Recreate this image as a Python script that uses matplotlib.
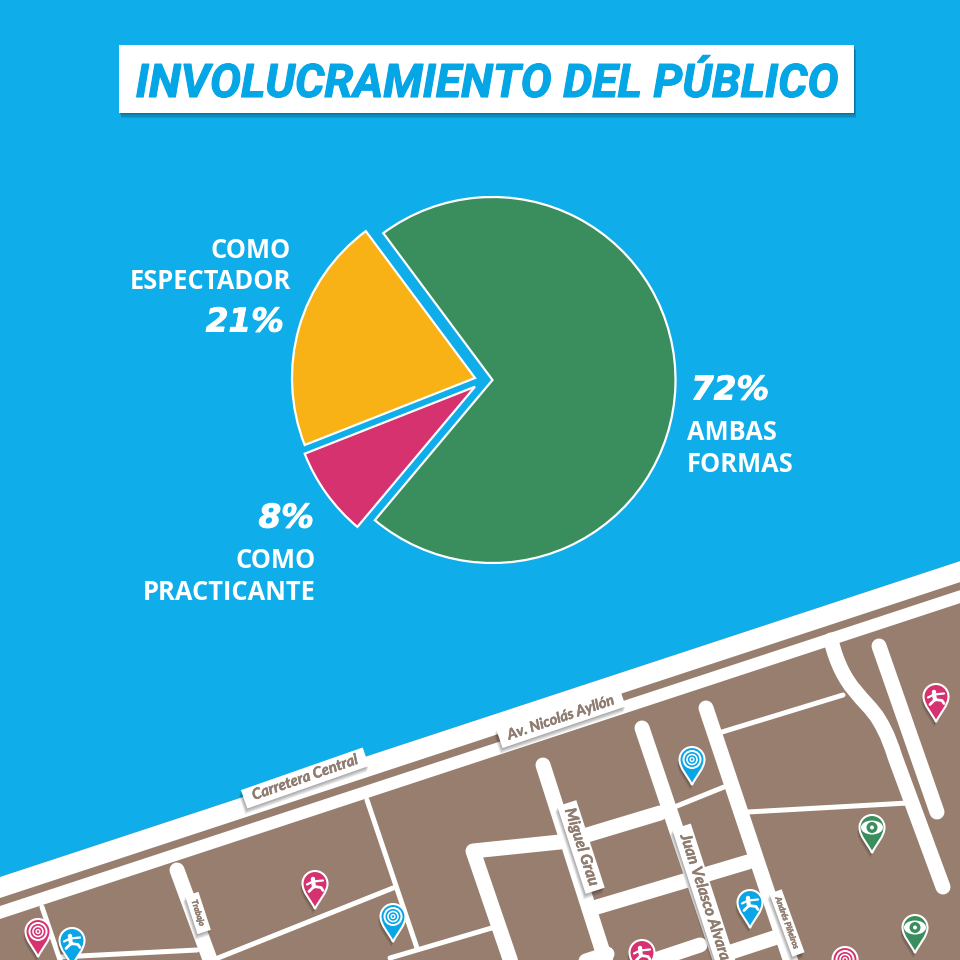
import matplotlib
matplotlib.use("Agg")
import matplotlib.pyplot as plt
from matplotlib.patches import Polygon, Rectangle, Circle, Ellipse, PathPatch
from matplotlib.path import Path
from matplotlib.transforms import Affine2D
import matplotlib.patheffects as pe

# ---- data ----
categories = ["AMBAS\nFORMAS", "COMO\nESPECTADOR", "COMO\nPRACTICANTE"]
values = [72, 21, 8]
slice_colors = ["#3A8D5C", "#F9B216", "#D5326F"]
title = "INVOLUCRAMIENTO DEL PÚBLICO"
street_names = ["Carretera Central", "Av. Nicolás Ayllón", "Trabajo", "Miguel Grau",
                "Juan Velasco Alvarado", "Andrés Piñeiros"]

BG = "#0FADE9"; BROWN = "#987E6E"; WHITE = "#FFFFFF"; TITLE_C = "#05A6E6"
LABEL_C = "#8F7C70"
PIN = {"pink": "#D5326F", "blue": "#0AA5E6", "green": "#3A8D5C"}
FONT = "Open Sans"
NARROW = "Lato"

fig = plt.figure(figsize=(9.6, 9.6), dpi=100, facecolor=BG)
ax = fig.add_axes([0, 0, 1, 1]); ax.set_xlim(0, 960); ax.set_ylim(960, 0); ax.axis("off")

def soft_shadow(dx, dy, n=4, alpha=0.09):
    fx = [pe.SimplePatchShadow(offset=(dx * (i + 1) / n, dy * (i + 1) / n),
                               shadow_rgbFace="#000000", alpha=alpha) for i in range(n)]
    return fx + [pe.Normal()]

# ---- title ----
ax.add_patch(Rectangle((119, 45), 735, 68, fc=WHITE, ec="none", path_effects=soft_shadow(1.5, -3.5), zorder=2))
title_text = ax.text(486.5, 97, title, color=TITLE_C, fontsize=35, fontweight="bold", fontstyle="italic",
                     family="Roboto", ha="center", va="baseline", zorder=3,
                     path_effects=[pe.withStroke(linewidth=0.8, foreground=TITLE_C)])
fig.canvas.draw()
w = title_text.get_window_extent().width
title_text.set_fontsize(35 * 703 / w)

# ---- map ----
def edge(x, off):
    return 877 - 0.329 * x + off

ax.add_patch(Polygon([(0, edge(0, 0)), (960, edge(960, 0)), (960, 960), (0, 960)], fc=BROWN, ec="none", zorder=1))
ax.add_patch(Polygon([(0, edge(0, 0)), (960, edge(960, 0)), (960, edge(960, 21)), (0, edge(0, 21))], fc=WHITE, ec="none", zorder=1.1))
ax.add_patch(Polygon([(0, edge(0, 29)), (960, edge(960, 29)), (960, edge(960, 42)), (0, edge(0, 42))], fc=WHITE, ec="none", zorder=1.1))

wide = 15 * 0.72
thin = 5 * 0.72
streets = [
    ([(543, 765), (607, 965)], wide),
    ([(642, 728), (722, 965)], wide),
    ([(706, 708), (792, 965)], wide),
    ([(879, 646), (937, 812)], wide),
    ([(722, 732), (843, 695)], thin),
    ([(748, 812), (908, 803)], thin),
    ([(672, 808), (724, 787)], thin),
    ([(512, 965), (473, 851), (560, 842), (587, 835), (660, 813)], wide),
    ([(597, 907), (748, 862)], wide),
    ([(565, 968), (607, 954)], wide),
    ([(640, 965), (700, 945)], wide),
    ([(722, 955), (780, 936)], wide),
    ([(213, 960), (393, 888)], thin),
    ([(367, 800), (417, 948)], thin),
    ([(390, 958), (495, 927)], thin),
    ([(42, 907), (60, 960)], thin),
    ([(60, 957), (197, 950)], thin),
    ([(177, 870), (212, 965)], wide),
]
for pts, lw in streets:
    xs, ys = zip(*pts)
    ax.plot(xs, ys, color=WHITE, lw=lw, solid_capstyle="round", solid_joinstyle="round", zorder=1.2)

curve = Path([(831, 640), (843, 690), (866, 698), (879, 720), (888, 735), (891, 745), (895, 757), (943, 887)],
             [Path.MOVETO, Path.CURVE4, Path.CURVE4, Path.CURVE4, Path.CURVE4, Path.CURVE4, Path.CURVE4, Path.LINETO])
ax.add_patch(PathPatch(curve, fc="none", ec=WHITE, lw=wide, capstyle="round", zorder=1.2))

# ---- street labels ----
def street_label(name, x, y, rot, size, length, width):
    tr = Affine2D().rotate_deg(-rot).translate(x, y) + ax.transData
    ax.add_patch(Rectangle((-length / 2, -width / 2), length, width, transform=tr, fc=WHITE, ec="none",
                           zorder=3.9, path_effects=soft_shadow(-1.5, -4)))
    ax.text(x, y, name, color=LABEL_C, fontsize=size, fontweight="bold", fontstyle="italic", family=NARROW,
            ha="center", va="center", rotation=rot, rotation_mode="anchor", zorder=4,
            path_effects=[pe.withStroke(linewidth=0.3, foreground=LABEL_C)])

street_label(street_names[0], 305, 778, 19.3, 10.8, 129, 19.5)
street_label(street_names[1], 561, 718, 18.7, 10.6, 130, 19.5)
street_label(street_names[2], 198, 913, -72, 6, 40, 14)
street_label(street_names[3], 581, 847, -72, 11.2, 92, 20)
street_label(street_names[4], 707, 905, -72, 11.2, 165, 19.5)
street_label(street_names[5], 787, 923, -70, 6, 67, 13)

# ---- pins ----
def pin_path(x, tip, w=12.5, h=38):
    cy = tip - h + w
    k = 0.5523 * w
    verts = [(x, tip), (x - 4, tip - 9), (x - w, cy + 9), (x - w, cy),
             (x - w, cy - k), (x - k, cy - w), (x, cy - w),
             (x + k, cy - w), (x + w, cy - k), (x + w, cy),
             (x + w, cy + 9), (x + 4, tip - 9), (x, tip), (x, tip)]
    codes = [Path.MOVETO] + [Path.CURVE4] * 12 + [Path.CLOSEPOLY]
    return Path(verts, codes), cy

def draw_pin(x, tip, color, icon):
    p, cy = pin_path(x, tip)
    c = PIN[color]
    ax.add_patch(PathPatch(p, fc=c, ec=WHITE, lw=1.5, zorder=4.2, path_effects=soft_shadow(-1.5, -3.5)))
    if icon == "target":
        ax.add_patch(Circle((x, cy), 9.5, fc=WHITE, ec="none", zorder=4.3))
        ax.add_patch(Circle((x, cy), 7.5, fc=c, ec="none", zorder=4.4))
        ax.add_patch(Circle((x, cy), 5.8, fc=WHITE, ec="none", zorder=4.5))
        ax.add_patch(Circle((x, cy), 4.2, fc=c, ec="none", zorder=4.6))
        ax.add_patch(Circle((x, cy), 2.6, fc=WHITE, ec="none", zorder=4.7))
        ax.add_patch(Circle((x, cy), 1.2, fc=c, ec="none", zorder=4.8))
    elif icon == "eye":
        ax.add_patch(Ellipse((x, cy), 22, 14, fc=WHITE, ec="none", zorder=4.3))
        ax.add_patch(Circle((x, cy), 5.5, fc=c, ec="none", zorder=4.4))
        ax.add_patch(Circle((x, cy), 2, fc=WHITE, ec="none", zorder=4.5))
    else:
        ax.add_patch(Circle((x - 2, cy - 4.5), 2.2, fc=WHITE, ec="none", zorder=4.3))
        for seg, lw in [([(x - 8, cy + 1), (x - 2, cy - 2), (x + 8, cy - 3)], 1.6),
                        ([(x - 2, cy - 2), (x - 1, cy + 3)], 3),
                        ([(x - 1, cy + 3), (x + 6, cy + 4), (x + 8, cy + 7)], 2),
                        ([(x - 1, cy + 3), (x - 6, cy + 8)], 2)]:
            xs, ys = zip(*seg)
            ax.plot(xs, ys, color=WHITE, lw=lw, solid_capstyle="round", zorder=4.3)

for x, tip, col, icon in [(38, 957, "pink", "target"), (72, 966, "blue", "runner"),
                          (315, 909, "pink", "runner"), (393, 942, "blue", "target"),
                          (692, 785, "blue", "target"), (750, 928, "blue", "runner"),
                          (642, 978, "pink", "runner"), (845, 985, "pink", "target"),
                          (872, 853, "green", "eye"), (915, 953, "green", "eye"),
                          (936, 722, "pink", "runner")]:
    draw_pin(x, tip, col, icon)

# ---- pie ----
pie_ax = fig.add_axes([0, 0, 1, 1]); pie_ax.set_xlim(0, 960); pie_ax.set_ylim(0, 960)
pie_ax.patch.set_alpha(0)
cx, cy = 492.5, 960 - 380
wedges, _ = pie_ax.pie(values, colors=slice_colors, startangle=230, counterclock=True,
                       center=(cx, cy), radius=183,
                       wedgeprops=dict(edgecolor=WHITE, linewidth=1.6, joinstyle="miter"))
pie_ax.set_xlim(0, 960); pie_ax.set_ylim(0, 960); pie_ax.axis("off")
wedges[1].set_center((475, 960 - 378))
wedges[2].set_center((475, 960 - 386.7))

# ---- pie labels ----
lab = dict(color=WHITE, fontweight="bold", zorder=5)
def label_lines(text, x, y0, ha):
    for i, line in enumerate(text.split("\n")):
        ax.text(x, y0 + i * 31.5, line, fontsize=18.4, ha=ha, va="center", family=FONT, **lab)
def pct(v, x, y, ha):
    ax.text(x, y, f"{v}%", fontsize=23.5, fontstyle="italic", ha=ha, va="center", family="DejaVu Sans",
            path_effects=[pe.withStroke(linewidth=0.7, foreground=WHITE)], **lab)

pct(values[0], 691, 390, "left")
label_lines(categories[0], 687, 433, "left")
pct(values[1], 284, 322, "right")
label_lines(categories[1], 291, 250, "right")
pct(values[2], 314, 518, "right")
label_lines(categories[2], 316, 561, "right")

fig.savefig("out.png", dpi=100, facecolor=BG)
